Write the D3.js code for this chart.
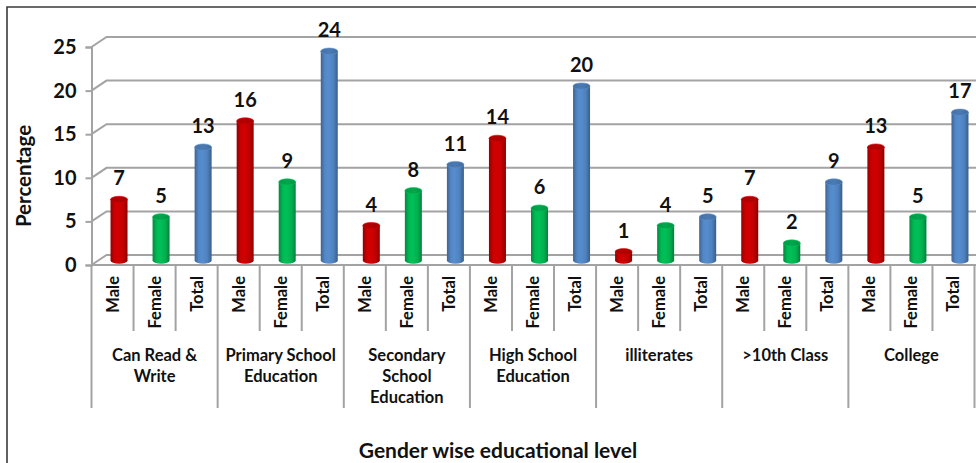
<!DOCTYPE html>
<html>
<head>
<meta charset="utf-8">
<script src="https://cdn.jsdelivr.net/npm/d3@7"></script>
<style>
  html, body { margin: 0; padding: 0; background: #fff; }
  svg { display: block; font-family: Lato, "Open Sans", sans-serif; font-weight: 700; }
</style>
</head>
<body>
<svg id="chart" width="976" height="463"></svg>
<script>
// Education levels (group labels, split into lines)
const groups = [
  ["Can Read &", "Write"],
  ["Primary School", "Education"],
  ["Secondary", "School", "Education"],
  ["High School", "Education"],
  ["illiterates"],
  [">10th Class"],
  ["College"]
];
const genders = ["Male", "Female", "Total"];

// Percentages per education level
const maleValues   = [7, 16, 4, 14, 1, 7, 13];
const femaleValues = [5, 9, 8, 6, 4, 2, 5];
const totalValues  = [13, 24, 11, 20, 5, 9, 17];

const yTicks = [0, 5, 10, 15, 20, 25];

const colors = { Male: "#C00000", Female: "#00B050", Total: "#4F81BD" };

const svg = d3.select("#chart");
const W = 976, H = 463;

// Outer chart frame (left and top edges visible)
svg.append("path")
  .attr("d", `M7,${H} L7,7 L${W},7`)
  .attr("fill", "none").attr("stroke", "#3a3a3a").attr("stroke-width", 1.6);

// Scales
const groupIds = groups.map((g, i) => i);
const xGroup = d3.scaleBand().domain(groupIds).range([91.5, 974.5]).padding(0);
const xSub = d3.scaleBand().domain(genders).range([0, xGroup.bandwidth()]).padding(0);
const y = d3.scaleLinear().domain([0, 25]).range([265, 47]);

// 3D depth offset of the back wall
const depth = { dx: 15, dy: -10 };
const barShift = { dx: 6.5, dy: -4.5 };
const x0 = xGroup.range()[0];
const gridColor = "#a3a3a3";

// Back wall gridlines with the diagonal side wall edge
const grid = svg.append("g").attr("class", "grid");
grid.selectAll("path").data(yTicks).join("path")
  .attr("d", t => `M${x0},${y(t)} L${x0 + depth.dx},${y(t) + depth.dy} L${W},${y(t) + depth.dy}`)
  .attr("fill", "none").attr("stroke", gridColor).attr("stroke-width", 2);

// Floor front edge
svg.append("line")
  .attr("x1", x0).attr("x2", W).attr("y1", y(0)).attr("y2", y(0))
  .attr("stroke", gridColor).attr("stroke-width", 2);

// Y axis
const yAxis = d3.axisLeft(y).tickValues(yTicks).tickSize(6).tickPadding(9);
const yg = svg.append("g").attr("transform", `translate(${x0},0)`).call(yAxis);
yg.select(".domain").attr("stroke", gridColor).attr("stroke-width", 2);
yg.selectAll(".tick line").attr("stroke", gridColor).attr("stroke-width", 2);
yg.selectAll(".tick text")
  .attr("font-family", "Lato, sans-serif").attr("font-weight", 700)
  .attr("font-size", 20).attr("fill", "#111");

// Y title
svg.append("text")
  .attr("transform", "translate(23,176) rotate(-90)")
  .attr("text-anchor", "middle").attr("dominant-baseline", "central")
  .attr("font-size", 20.5).attr("fill", "#111")
  .text("Percentage");

// Flattened bar records
const records = [];
groupIds.forEach(gi => {
  records.push({ g: gi, s: "Male", v: maleValues[gi] });
  records.push({ g: gi, s: "Female", v: femaleValues[gi] });
  records.push({ g: gi, s: "Total", v: totalValues[gi] });
});
const slotCenter = d => xGroup(d.g) + xSub(d.s) + xSub.bandwidth() / 2;

// Cylinder gradients
const defs = svg.append("defs");
function shade(c, k) { return d3.color(c).darker(k).formatHex(); }
function light(c, k) { return d3.color(c).brighter(k).formatHex(); }
genders.forEach(s => {
  const c = colors[s];
  const gr = defs.append("linearGradient").attr("id", "cyl-" + s)
    .attr("x1", "0%").attr("x2", "100%").attr("y1", "0%").attr("y2", "0%");
  [[0, shade(c, 0.7)], [0.25, light(c, 0.15)], [0.45, light(c, 0.25)], [0.75, c], [1, shade(c, 0.9)]]
    .forEach(([o, col]) => gr.append("stop").attr("offset", o).attr("stop-color", col));
  const tg = defs.append("linearGradient").attr("id", "top-" + s)
    .attr("x1", "0%").attr("x2", "100%").attr("y1", "0%").attr("y2", "0%");
  [[0, shade(c, 0.4)], [0.5, shade(c, 0.15)], [1, shade(c, 0.5)]]
    .forEach(([o, col]) => tg.append("stop").attr("offset", o).attr("stop-color", col));
});

const bw = 17, ry = 3.2;
const bars = svg.append("g").attr("class", "bars");
const bar = bars.selectAll("g").data(records).join("g");
const cx = d => slotCenter(d) + barShift.dx;
const base = y(0) + barShift.dy;
const topY = d => y(d.v) + barShift.dy;

bar.append("path")
  .attr("d", d => {
    const l = cx(d) - bw / 2, r = cx(d) + bw / 2, t = topY(d);
    return `M${l},${t} L${l},${base} A${bw / 2},${ry} 0 0 0 ${r},${base} L${r},${t} Z`;
  })
  .attr("fill", d => `url(#cyl-${d.s})`);
bar.append("ellipse")
  .attr("cx", cx).attr("cy", topY)
  .attr("rx", bw / 2).attr("ry", ry)
  .attr("fill", d => `url(#top-${d.s})`)
  .attr("stroke", d => light(colors[d.s], 0.3)).attr("stroke-width", 0.6);

// Value labels
bar.append("text")
  .attr("x", cx).attr("y", d => topY(d) - 14)
  .attr("text-anchor", "middle")
  .attr("font-size", 20).attr("fill", "#111")
  .text(d => d.v);

// Category axis: sub separators, group separators and labels
const cat = svg.append("g").attr("class", "cat");
const subSep = [];
groupIds.forEach(gi => { subSep.push(xGroup(gi) + xSub("Female")); subSep.push(xGroup(gi) + xSub("Total")); });
cat.selectAll("line.sub").data(subSep).join("line").attr("class", "sub")
  .attr("x1", d => d).attr("x2", d => d).attr("y1", y(0)).attr("y2", 331)
  .attr("stroke", gridColor).attr("stroke-width", 2);
const grpSep = groupIds.map(gi => xGroup(gi)).concat([xGroup.range()[1]]);
cat.selectAll("line.grp").data(grpSep).join("line").attr("class", "grp")
  .attr("x1", d => d).attr("x2", d => d).attr("y1", y(0)).attr("y2", 408)
  .attr("stroke", gridColor).attr("stroke-width", 2);

cat.selectAll("text.sub").data(records).join("text").attr("class", "sub")
  .attr("transform", d => `translate(${slotCenter(d)},276) rotate(-90)`)
  .attr("text-anchor", "end").attr("dominant-baseline", "central")
  .attr("font-size", 16.5).attr("fill", "#111")
  .text(d => d.s);

const gl = cat.selectAll("text.grp").data(groupIds).join("text").attr("class", "grp")
  .attr("text-anchor", "middle")
  .attr("font-size", 16.5).attr("fill", "#111");
gl.selectAll("tspan").data(gi => groups[gi].map((line, k) => ({ gi, line, k }))).join("tspan")
  .attr("x", d => xGroup(d.gi) + xGroup.bandwidth() / 2)
  .attr("y", d => 355 + d.k * 21)
  .attr("dominant-baseline", "central")
  .text(d => d.line);

// X title
svg.append("text")
  .attr("x", 498).attr("y", 449)
  .attr("text-anchor", "middle").attr("dominant-baseline", "central")
  .attr("font-size", 21).attr("fill", "#111")
  .text("Gender wise educational level");
</script>
</body>
</html>
